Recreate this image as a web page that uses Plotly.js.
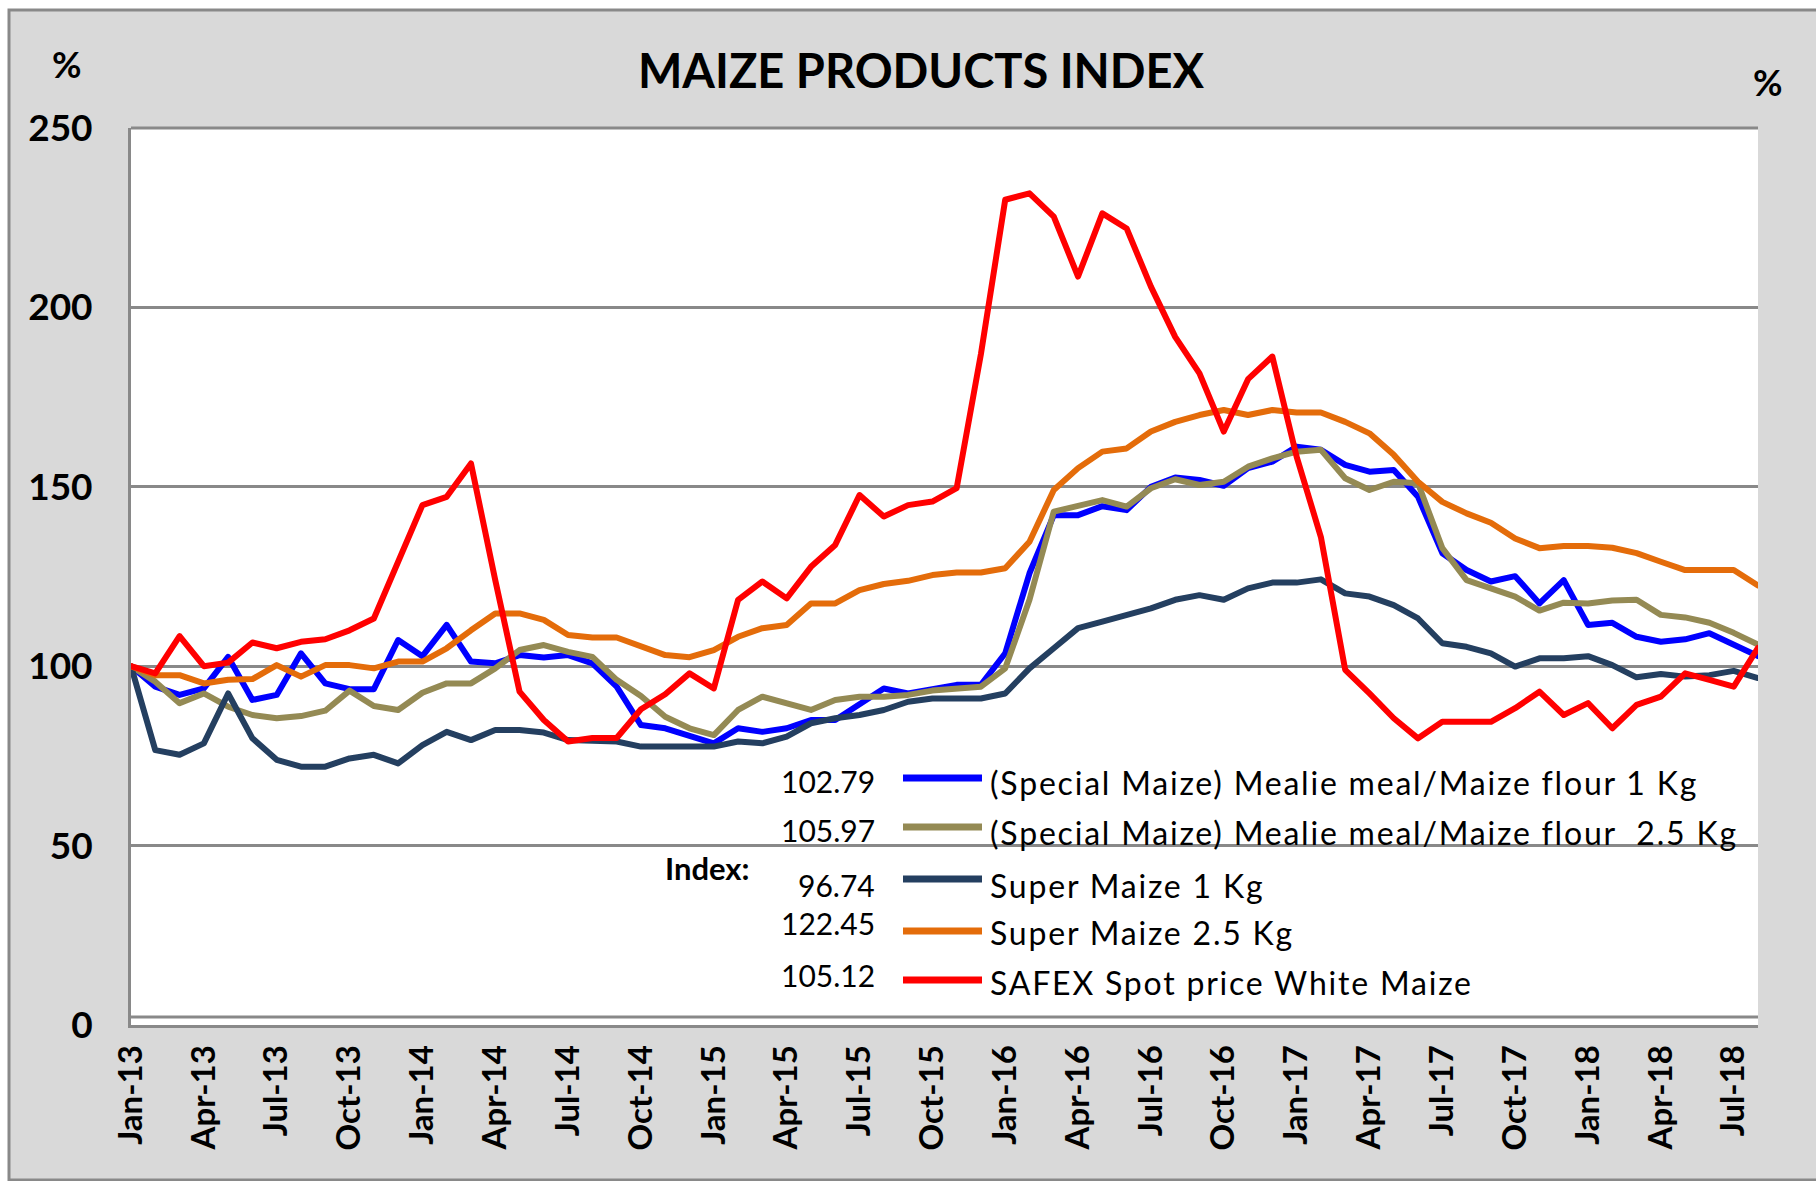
<!DOCTYPE html>
<html><head><meta charset="utf-8">
<script src="https://cdn.plot.ly/plotly-3.0.1.min.js"></script>
<style>
html,body{margin:0;padding:0;background:#fff;}
#chart{width:1816px;height:1181px;}
.js-line{stroke-linejoin:round;stroke-linecap:round;}
</style>
</head><body><div id="chart"></div>
<script>
// ---------- DATA ----------
const months = [
 "Jan-13","Feb-13","Mar-13","Apr-13","May-13","Jun-13","Jul-13","Aug-13","Sep-13","Oct-13","Nov-13","Dec-13",
 "Jan-14","Feb-14","Mar-14","Apr-14","May-14","Jun-14","Jul-14","Aug-14","Sep-14","Oct-14","Nov-14","Dec-14",
 "Jan-15","Feb-15","Mar-15","Apr-15","May-15","Jun-15","Jul-15","Aug-15","Sep-15","Oct-15","Nov-15","Dec-15",
 "Jan-16","Feb-16","Mar-16","Apr-16","May-16","Jun-16","Jul-16","Aug-16","Sep-16","Oct-16","Nov-16","Dec-16",
 "Jan-17","Feb-17","Mar-17","Apr-17","May-17","Jun-17","Jul-17","Aug-17","Sep-17","Oct-17","Nov-17","Dec-17",
 "Jan-18","Feb-18","Mar-18","Apr-18","May-18","Jun-18","Jul-18","Aug-18"
];
const tickLabels = ["Jan-13","Apr-13","Jul-13","Oct-13","Jan-14","Apr-14","Jul-14","Oct-14",
 "Jan-15","Apr-15","Jul-15","Oct-15","Jan-16","Apr-16","Jul-16","Oct-16",
 "Jan-17","Apr-17","Jul-17","Oct-17","Jan-18","Apr-18","Jul-18"];
const yTicks = [0,50,100,150,200,250];

const specialMaize1kg = [
 100,94.3,92,93.8,102.6,90.6,92,103.6,95.2,93.6,
 93.6,107.3,102.8,111.5,101.3,100.8,103.1,102.4,103.1,100.8,
 94.3,83.6,82.7,80.6,78.5,82.7,81.7,82.7,85,85,
 89.2,93.8,92.4,93.4,94.8,94.8,103.6,125.9,142.1,142.1,
 144.6,143.5,150,152.6,151.9,150.3,155.2,157,161.2,160.3,
 156.1,154.2,154.7,147.2,131.5,126.8,123.6,125.1,117.5,124,
 111.5,112.1,108.2,106.8,107.5,109.2,105.9,102.8];
const specialMaize25kg = [
 100,95.7,89.7,92.4,88.7,86.4,85.5,86.1,87.6,93.2,
 88.9,87.8,92.6,95.2,95.2,99.4,104.5,105.9,104,102.6,
 96.2,91.7,85.9,82.7,80.8,87.8,91.5,89.7,87.8,90.6,
 91.5,91.5,92,93.2,93.8,94.3,99.4,118.5,143.1,144.9,
 146.3,144.5,149.6,152.1,150.5,151.4,155.6,157.9,159.8,160.3,
 152.4,149.1,151.4,151,132.9,124,121.7,119.4,115.5,117.7,
 117.5,118.3,118.5,114.3,113.6,112.1,109.3,106];
const superMaize1kg = [
 100,76.6,75.3,78.5,92.4,79.9,73.9,72,72,74.3,
 75.3,72.9,78,81.7,79.4,82.2,82.2,81.5,79.4,79,
 79,77.6,77.6,77.6,77.6,79,78.5,80.4,84.1,85.5,
 86.4,87.8,90.1,91,91,91,92.4,99.4,105,110.6,
 112.4,114.3,116.1,118.5,119.8,118.5,121.7,123.3,123.3,124.2,
 120.3,119.4,117,113.3,106.4,105.4,103.6,99.9,102.2,102.2,
 102.8,100.3,96.9,97.8,97.1,97.5,98.7,96.7];
const superMaize25kg = [
 100,97.5,97.5,95.2,96.2,96.4,100.3,97.1,100.3,100.3,
 99.4,101.3,101.3,105,110,114.7,114.7,112.9,108.7,108,
 108,105.4,103.1,102.5,104.5,108.2,110.6,111.5,117.5,117.5,
 121.2,122.9,123.8,125.4,126.1,126.1,127.3,134.7,149.1,155.2,
 159.8,160.7,165.4,168.1,170,171.4,170,171.4,170.7,170.7,
 168.1,164.9,158.9,151.4,145.8,142.6,140,135.6,132.9,133.5,
 133.5,133,131.5,129.1,126.8,126.8,126.8,122.5];
const safexWhiteMaize = [
 100,98,108.4,100,101,106.6,105,106.8,107.5,110,
 113.3,128.7,144.9,147.2,156.5,124,92.9,85,79,80,
 80,88,92.2,98,93.8,118.5,123.6,118.9,127.7,133.8,
 147.7,141.7,144.9,145.9,149.6,187,230,231.8,225.3,208.6,
 226.2,222,205.8,191.8,181.6,165.4,180,186.3,158.4,136,
 99,92.4,85.5,79.9,84.5,84.5,84.5,88.3,92.9,86.4,
 89.7,82.7,89.2,91.5,98,96.2,94.3,105.1];

const seriesNames = [
 "(Special Maize) Mealie meal/Maize flour 1 Kg",
 "(Special Maize) Mealie meal/Maize flour\u00a0 2.5 Kg",
 "Super Maize 1 Kg",
 "Super Maize 2.5 Kg",
 "SAFEX Spot price White Maize"];
const indexValues = ["102.79","105.97","96.74","122.45","105.12"];
const seriesData = [specialMaize1kg, specialMaize25kg, superMaize1kg, superMaize25kg, safexWhiteMaize];
const seriesColors = ["#0000FF","#948A54","#243F60","#E46C0A","#FF0000"];

// ---------- LAYOUT HELPERS ----------
const W = 1816, H = 1181;
const M = {l:131, r:58, t:128, b:156};
const PW = W - M.l - M.r, PH = H - M.t - M.b;
const px = x => (x - M.l) / PW;
const py = y => (H - M.b - y) / PH;
const FONT = "Lato, 'Open Sans', sans-serif";
const GRID = "#898989";

const traces = seriesData.map((d, i) => ({
  x: months, y: d, type: "scatter", mode: "lines", name: seriesNames[i],
  line: {color: seriesColors[i], width: 6}, hoverinfo: "skip"
}));

const shapes = [
  {type:"rect", xref:"paper", yref:"paper", x0:px(9), x1:px(1840), y0:py(1180), y1:py(10),
   fillcolor:"#D9D9D9", line:{color:GRID, width:3}, layer:"below"},
  {type:"rect", xref:"paper", yref:"paper", x0:0, x1:1, y0:py(1025), y1:1,
   fillcolor:"#FFFFFF", line:{width:0}, layer:"below"},
  {type:"line", xref:"paper", yref:"paper", x0:0, x1:1, y0:1, y1:1, line:{color:GRID, width:3}},
  {type:"line", xref:"paper", yref:"paper", x0:0, x1:1, y0:py(1017), y1:py(1017), line:{color:GRID, width:3}}
];

const annotations = [
  {text:"%", xref:"paper", yref:"paper", x:px(67), y:py(64), xanchor:"center", yanchor:"middle", showarrow:false,
   font:{family:FONT, size:36, color:"#000", weight:"bold"}},
  {text:"%", xref:"paper", yref:"paper", x:px(1768), y:py(82), xanchor:"center", yanchor:"middle", showarrow:false,
   font:{family:FONT, size:36, color:"#000", weight:"bold"}},
  {text:"Index:", xref:"paper", yref:"paper", x:px(752), y:py(868), xanchor:"right", yanchor:"middle", showarrow:false,
   font:{family:FONT, size:31, color:"#000", weight:"bold"}}
];

const valueY = [781, 830, 885, 923, 975];
const lineY  = [778, 827, 879, 931, 980];
const textY  = [782, 832, 885, 932, 982];
for (let i = 0; i < 5; i++) {
  annotations.push({text: indexValues[i], xref:"paper", yref:"paper", x:px(877), y:py(valueY[i]),
    xanchor:"right", yanchor:"middle", showarrow:false, font:{family:FONT, size:30, color:"#000"}});
  annotations.push({text: '<span style="letter-spacing:1.8px">' + seriesNames[i] + '</span>',
    xref:"paper", yref:"paper", x:px(988), y:py(textY[i]),
    xanchor:"left", yanchor:"middle", showarrow:false, font:{family:FONT, size:32, color:"#000"}});
  shapes.push({type:"line", xref:"paper", yref:"paper", x0:px(903), x1:px(982), y0:py(lineY[i]), y1:py(lineY[i]),
    line:{color: seriesColors[i], width:7}});
}

const layout = {
  width: W, height: H, margin: M,
  paper_bgcolor: "#FFFFFF", plot_bgcolor: "#FFFFFF",
  showlegend: false,
  title: {text:"MAIZE PRODUCTS INDEX", xref:"container", yref:"container",
    x: 921/W, xanchor:"center", y: 1 - 72/H, yanchor:"middle",
    font:{family:FONT, size:47, color:"#000", weight:"bold"}},
  xaxis: {type:"category", range:[0, months.length - 1], tickmode:"array",
    tickvals: tickLabels, ticktext: tickLabels, tickangle:-90,
    tickfont:{family:FONT, size:33, color:"#000", weight:"bold"},
    showgrid:false, zeroline:false, showline:true, linecolor:GRID, linewidth:3,
    ticks:"", ticklabelstandoff:4, fixedrange:true},
  yaxis: {range:[0, 250], tickmode:"array", tickvals: yTicks, ticktext: yTicks.map(String),
    tickfont:{family:FONT, size:37, color:"#000", weight:"bold"},
    showgrid:true, gridcolor:GRID, gridwidth:3, zeroline:false,
    showline:true, linecolor:GRID, linewidth:3, ticks:"", ticklabelstandoff:28, fixedrange:true},
  shapes: shapes, annotations: annotations
};

Plotly.newPlot("chart", traces, layout, {displayModeBar:false, staticPlot:true});
</script>
</body></html>
